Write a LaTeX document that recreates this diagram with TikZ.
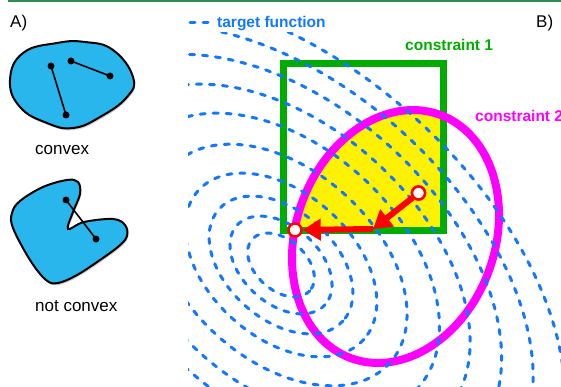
\documentclass[tikz,border=0pt]{standalone}
\usepackage{fontspec}
\setmainfont{Liberation Sans}
\usetikzlibrary{arrows.meta}
\definecolor{blobblue}{RGB}{40,182,236}
\definecolor{tgtblue}{RGB}{20,120,255}
\definecolor{cgreen}{RGB}{0,172,0}
\definecolor{cpink}{RGB}{255,0,255}
\definecolor{topline}{RGB}{46,139,87}
\definecolor{cred}{RGB}{255,0,0}
\tikzset{
  tgt/.style={draw=tgtblue, line width=3pt, dash pattern=on 5pt off 8pt, line cap=round},
  blob/.style={draw=black, line width=2pt, fill=blobblue},
  shadowblob/.style={fill=black!18},
  dotn/.style={circle, fill=black, inner sep=0pt, minimum size=7pt},
  seg/.style={draw=black, line width=1.6pt},
  lbl/.style={inner sep=0pt, anchor=base west, font=\fontsize{17}{17}\selectfont},
  blbl/.style={inner sep=0pt, anchor=base west, font=\fontsize{15.5}{15.5}\selectfont\bfseries},
  endpt/.style={circle, draw=cred, fill=white, line width=2.5pt, minimum size=13pt, inner sep=0pt},
  redarrow/.style={draw=cred, line width=6pt, -{Triangle[length=18pt,width=21pt]}}
}
\begin{document}
\begin{tikzpicture}[x=1pt,y=-1pt]
\useasboundingbox (0,0) rectangle (561,387);
% top rule
\coordinate (tl) at (8,0.8);
\coordinate (tr) at (561,0.8);
\draw[topline, line width=1.6pt] (tl) -- (tr);

% ---------------- panel A ----------------
\node[lbl] (labA) at (10,28) {A)};
% convex blob
\fill[shadowblob, shift={(1,2)}] plot[smooth cycle, tension=0.75] coordinates {(10,80) (23,53) (57,43) (85,42) (113,50) (133,77) (127,97) (100,117) (73,128) (47,123) (20,107)};
\path[blob] plot[smooth cycle, tension=0.75] coordinates {(10,80) (23,53) (57,43) (85,42) (113,50) (133,77) (127,97) (100,117) (73,128) (47,123) (20,107)};
\node[dotn] (p1) at (51,66) {};
\node[dotn] (p2) at (66,115) {};
\node[dotn] (p3) at (71,61) {};
\node[dotn] (p4) at (110,76) {};
\draw[seg] (p1.center) -- (p2.center);
\draw[seg] (p3.center) -- (p4.center);
\node[lbl] (lconvex) at (35,155) {convex};

% non-convex blob
\fill[shadowblob, shift={(1,2)}] plot[smooth cycle, tension=0.6] coordinates {(78,182) (80,194) (73,212) (68,229) (84,222) (113,219) (125,225) (127,236) (119,246) (100,260) (77,275) (58,283) (46,280) (30,260) (13,228) (12,213) (20,201) (43,187) (67,180)};
\path[blob] plot[smooth cycle, tension=0.6] coordinates {(78,182) (80,194) (73,212) (68,229) (84,222) (113,219) (125,225) (127,236) (119,246) (100,260) (77,275) (58,283) (46,280) (30,260) (13,228) (12,213) (20,201) (43,187) (67,180)};
\node[dotn] (q1) at (66,200) {};
\node[dotn] (q2) at (96,239) {};
\draw[seg] (q1.center) -- (q2.center);
\node[lbl] (lnot) at (35,311) {not convex};

% ---------------- panel B ----------------
\node[lbl] (labB) at (536,28) {B)};

% yellow feasible region
\begin{scope}
  \clip[rotate around={70:(395.5,236.5)}] (395.5,236.5) ellipse [x radius=129.6, y radius=99.5];
  \fill[yellow] (283.5,63.5) rectangle (443.5,230);
\end{scope}

% constraint 1 (square)
\coordinate (sq1) at (283.5,63.5);
\coordinate (sq2) at (443.5,230);
\draw[cgreen, line width=7pt] (sq1) rectangle (sq2);
% constraint 2 (ellipse)
\coordinate (ec) at (395.5,236.5);
\draw[cpink, line width=8pt, rotate around={70:(395.5,236.5)}] (ec) ellipse [x radius=129.6, y radius=99.5];

% target function contours
\begin{scope}
  \clip (188,33) rectangle (561,387);
  \foreach \ra/\rb in {38.7/25.2, 59.3/38.5, 83.5/54.2, 111.3/72.3, 146.4/95.1, 184/119.5, 221/140, 259/161, 298/180, 337/199}{
    \draw[tgt, rotate around={-42:(281,265)}] (281,265) ellipse [x radius=\ra, y radius=\rb];
  }
\end{scope}

% labels
\coordinate (lg1) at (190,23);
\coordinate (lg2) at (212,23);
\draw[tgt] (lg1) -- (lg2);
\node[blbl, text=tgtblue] (ltf) at (217,28) {target function};
\node[blbl, text=cgreen] (lc1) at (405,51) {constraint 1};
\node[blbl, text=cpink] (lc2) at (475,121.5) {constraint 2};

% optimisation steps
\node[endpt] (s0) at (418.5,193) {};
\coordinate (k) at (373,229);
\node[endpt] (s2) at (295,230) {};
\draw[redarrow] (k) -- (s2);
\draw[redarrow] (s0) -- (k);
\node[endpt] at (s0) {};
\end{tikzpicture}
\end{document}
